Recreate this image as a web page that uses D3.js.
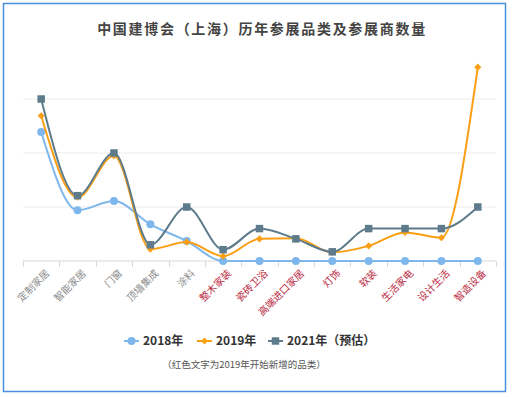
<!DOCTYPE html>
<html>
<head>
<meta charset="utf-8">
<script src="https://cdn.jsdelivr.net/npm/d3@7"></script>
<style>
  body { margin: 0; background: #fff; }
  svg { display: block; font-family: "Noto Sans CJK SC", "Noto Sans", sans-serif; }
</style>
</head>
<body>
<div id="chart"></div>
<script>
// categories, first 5 existed before 2019, the rest are new (red labels)
var categories = ["定制家居", "智能家居", "门窗", "顶墙集成", "涂料", "整木家装", "瓷砖卫浴",
    "高端进口家居", "灯饰", "软装", "生活家电", "设计生活", "智造设备"];
var newFrom = 5;

var values2018 = [2.39, 0.94, 1.11, 0.68, 0.37, 0, 0, 0, 0, 0, 0, 0, 0];
var values2019 = [2.69, 1.18, 1.95, 0.22, 0.35, 0.09, 0.41, 0.42, 0.16, 0.28, 0.53, 0.43, 3.59];
var values2021 = [3.0, 1.21, 2.0, 0.30, 1.0, 0.21, 0.6, 0.41, 0.17, 0.6, 0.6, 0.6, 1.0];

var gridTicks = [0, 1, 2, 3];

var seriesNames = ["2018年", "2019年", "2021年（预估）"];

var width = 512, height = 397;
var margin = { top: 99, right: 16, bottom: 136, left: 23 };
var plotW = width - margin.left - margin.right;
var plotH = height - margin.top - margin.bottom;

var series = [
    { name: seriesNames[0], values: values2018, color: "#7db7ec", shape: "circle" },
    { name: seriesNames[1], values: values2019, color: "#fa9f14", shape: "diamond" },
    { name: seriesNames[2], values: values2021, color: "#5d7b8a", shape: "square" }
];

var svg = d3.select("#chart").append("svg")
    .attr("width", width)
    .attr("height", height);

// outer blue frame
svg.append("rect")
    .attr("x", 3.5).attr("y", 3.5)
    .attr("width", 502).attr("height", 388)
    .attr("fill", "#fff")
    .attr("stroke", "#4a90dc")
    .attr("stroke-width", 1.5);

svg.append("text")
    .attr("x", 262).attr("y", 34)
    .attr("text-anchor", "middle")
    .style("font-size", "14px")
    .style("font-weight", "bold")
    .style("letter-spacing", "1.7px")
    .style("fill", "#444")
    .text("中国建博会（上海）历年参展品类及参展商数量");

var g = svg.append("g")
    .attr("transform", "translate(" + margin.left + "," + margin.top + ")");

var x = d3.scaleBand()
    .domain(categories)
    .range([0, plotW]);

var y = d3.scaleLinear()
    .domain([0, 3])
    .range([plotH, 0]);

// grid lines
g.selectAll(".grid")
    .data(gridTicks.slice(1))
    .enter().append("line")
    .attr("class", "grid")
    .attr("x1", 0).attr("x2", plotW)
    .attr("y1", function(d) { return y(d); })
    .attr("y2", function(d) { return y(d); })
    .attr("stroke", "#ececec")
    .attr("stroke-width", 1);

// x axis with ticks on band edges
var xAxis = g.append("g")
    .attr("transform", "translate(0," + plotH + ")");

xAxis.append("line")
    .attr("x1", 0).attr("x2", plotW)
    .attr("stroke", "#d9d9d9").attr("stroke-width", 1.2);

xAxis.selectAll(".tick")
    .data(d3.range(categories.length + 1))
    .enter().append("line")
    .attr("x1", function(i) { return Math.round(i * x.step()) + 0.5; })
    .attr("x2", function(i) { return Math.round(i * x.step()) + 0.5; })
    .attr("y1", 0).attr("y2", 6)
    .attr("stroke", "#d9d9d9");

xAxis.selectAll(".label")
    .data(categories)
    .enter().append("text")
    .attr("transform", function(d) {
        return "translate(" + (x(d) + x.bandwidth() / 2 + 4) + ",8) rotate(-45)";
    })
    .attr("text-anchor", "end")
    .attr("dy", "0.7em")
    .style("font-size", "10px")
    .style("fill", function(d, i) { return i >= newFrom ? "#b8283e" : "#8a8a8a"; })
    .text(function(d) { return d; });

var line = d3.line()
    .curve(d3.curveMonotoneX)
    .x(function(d, i) { return x(categories[i]) + x.bandwidth() / 2; })
    .y(function(d) { return y(d); });

var lines = g.selectAll(".series")
    .data(series)
    .enter().append("g")
    .attr("class", "series");

lines.append("path")
    .attr("d", function(d) { return line(d.values); })
    .attr("fill", "none")
    .attr("stroke", function(d) { return d.color; })
    .attr("stroke-width", 2);

var symbolFor = {
    circle: d3.symbol().type(d3.symbolCircle).size(50),
    diamond: d3.symbol().type(d3.symbolDiamond2).size(32),
    square: d3.symbol().type(d3.symbolSquare).size(56)
};

lines.each(function(s) {
    d3.select(this).selectAll(".pt")
        .data(s.values)
        .enter().append("path")
        .attr("d", symbolFor[s.shape]())
        .attr("transform", function(d, i) {
            return "translate(" + (x(categories[i]) + x.bandwidth() / 2) + "," + y(d) + ")";
        })
        .attr("fill", s.color);
});

// legend
var legendX = [124, 197, 268];
var legend = svg.selectAll(".legend")
    .data(series)
    .enter().append("g")
    .attr("transform", function(d, i) { return "translate(" + legendX[i] + ",341)"; });

legend.append("line")
    .attr("x1", 0).attr("x2", 15)
    .attr("stroke", function(d) { return d.color; })
    .attr("stroke-width", 2);

legend.append("path")
    .attr("d", function(d) { return symbolFor[d.shape](); })
    .attr("transform", "translate(7.5,0)")
    .attr("fill", function(d) { return d.color; });

legend.append("text")
    .attr("x", 19)
    .attr("dy", "0.35em")
    .style("font-size", "12px")
    .style("font-weight", "bold")
    .style("fill", "#333")
    .text(function(d) { return d.name; });

svg.append("text")
    .attr("x", 244).attr("y", 368)
    .attr("text-anchor", "middle")
    .style("font-size", "9.5px")
    .style("fill", "#555")
    .text("（红色文字为2019年开始新增的品类）");
</script>
</body>
</html>
